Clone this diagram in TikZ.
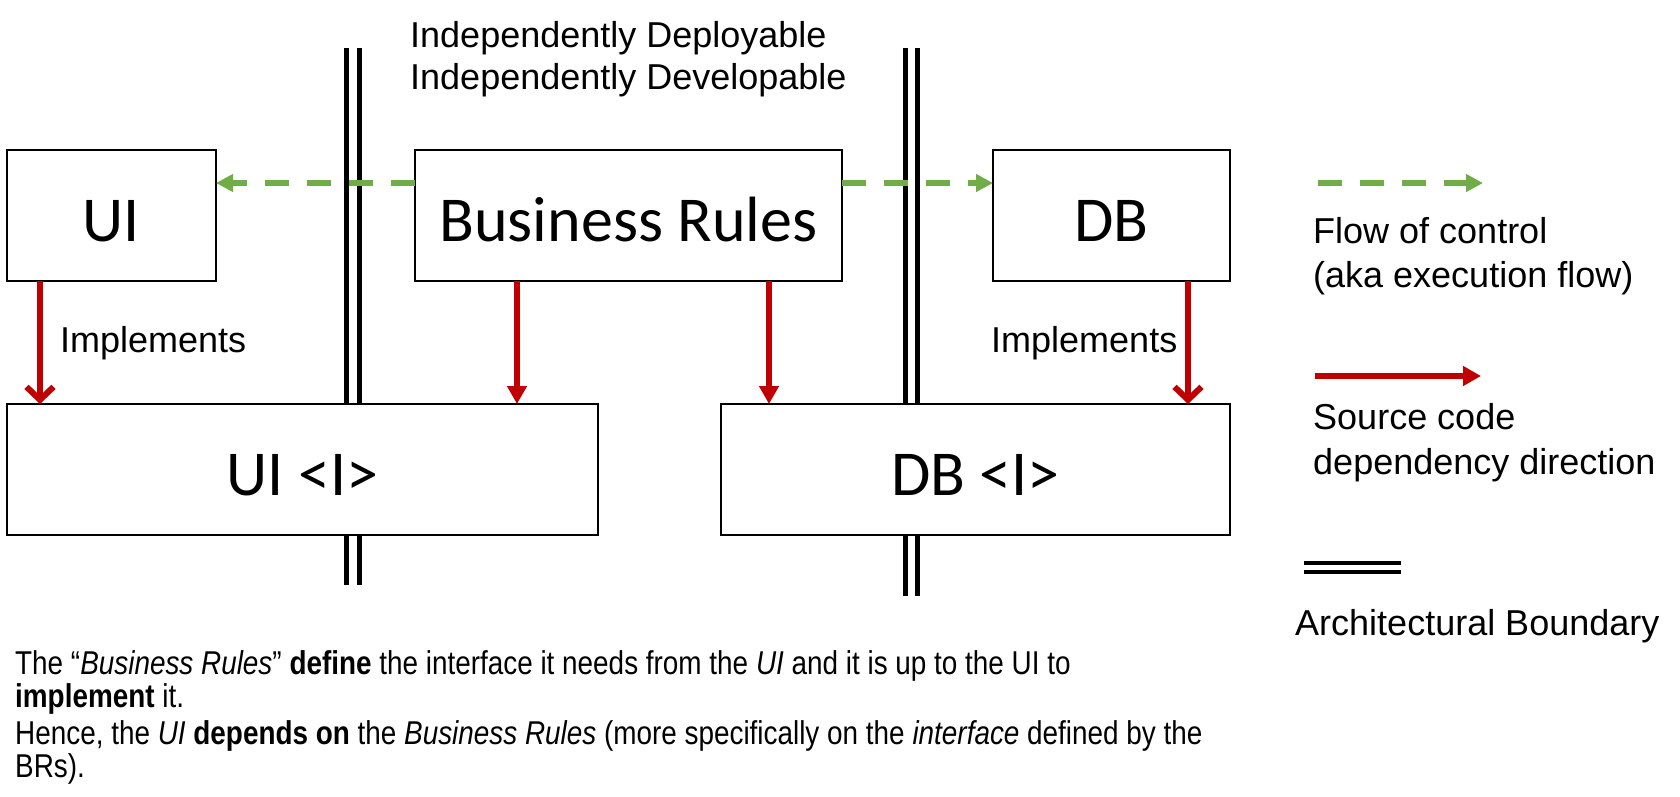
\documentclass[tikz,border=0pt]{standalone}
\usepackage{fontspec}
\setmainfont{Liberation Sans}
\newfontfamily\boxfont{Carlito}
\newfontfamily\narrowfont[FakeStretch=0.845]{Liberation Sans}
\usetikzlibrary{arrows.meta}

\definecolor{flowgreen}{HTML}{70AD47}
\definecolor{depred}{HTML}{C00000}

\begin{document}
\begin{tikzpicture}[x=1pt,y=-1pt]
 \tikzstyle{box} = [draw=black,line width=2pt,fill=white,inner sep=0pt,outer sep=0pt,minimum height=131pt,text height=52pt,text depth=0pt,font=\boxfont\fontsize{64}{77}\selectfont];
 \tikzstyle{flow} = [flowgreen,line width=5.5pt,dash pattern=on 24pt off 18pt,-{Triangle[length=17pt,width=17pt]}];
 \tikzstyle{dep} = [depred,line width=6pt,-{Triangle[length=18pt,width=19pt]}];
 \tikzstyle{impl} = [depred,line width=6pt,-{Straight Barb[length=13pt,width=27pt]}];
 \tikzstyle{boundary} = [black,line width=5pt];
 \tikzstyle{label} = [inner sep=0pt,anchor=base west,font=\fontsize{36}{44}\selectfont];

 \useasboundingbox (0,0) rectangle (1680,796);

 % architectural boundaries (behind the boxes)
 \coordinate (lbtop) at (353,48);
 \coordinate (lbbot) at (353,585);
 \coordinate (rbtop) at (911.5,48);
 \coordinate (rbbot) at (911.5,596);
 \draw[boundary] ([xshift=-6.5pt]lbtop) -- ([xshift=-6.5pt]lbbot);
 \draw[boundary] ([xshift=6.5pt]lbtop) -- ([xshift=6.5pt]lbbot);
 \draw[boundary] ([xshift=-6pt]rbtop) -- ([xshift=-6pt]rbbot);
 \draw[boundary] ([xshift=6pt]rbtop) -- ([xshift=6pt]rbbot);

 \node[label] (deploy) at (410,47) {Independently Deployable};
 \node[label] (develop) at (410,89) {Independently Developable};

 % components
 \node[box,minimum width=209pt] (ui) at (111.5,215.5) {UI};
 \node[box,minimum width=427pt] (br) at (628.5,215.5) {Business Rules};
 \node[box,minimum width=237pt] (db) at (1111.5,215.5) {DB};
 \node[box,minimum width=591pt] (uii) at (302.5,469.5) {UI <I>};
 \node[box,minimum width=509pt] (dbi) at (975.5,469.5) {DB <I>};

 % flow of control
 \coordinate (fl) at (0,183);
 \draw[flow] (br.west |- fl) -- (ui.east |- fl);
 \draw[flow] (br.east |- fl) -- (db.west |- fl);

 % source code dependencies
 \draw[impl] ([xshift=33pt]ui.south west) -- ([xshift=33pt]uii.north west);
 \draw[dep] ([xshift=102pt]br.south west) -- ([xshift=102pt]br.south west |- uii.north);
 \draw[dep] ([xshift=354pt]br.south west) -- ([xshift=354pt]br.south west |- dbi.north);
 \draw[impl] ([xshift=195pt]db.south west) -- ([xshift=195pt]db.south west |- dbi.north);

 \node[label] (implui) at (60,352) {Implements};
 \node[label] (impldb) at (991,352) {Implements};

 % legend
 \coordinate (lgflowa) at (1318,183);
 \coordinate (lgflowb) at (1483,183);
 \coordinate (lgdepa) at (1315,376);
 \coordinate (lgdepb) at (1481,376);
 \coordinate (lgbnda) at (1304,563);
 \coordinate (lgbndb) at (1401,563);
 \draw[flow] (lgflowa) -- (lgflowb);
 \draw[dep] (lgdepa) -- (lgdepb);
 \draw[black,line width=3.5pt] (lgbnda) -- (lgbndb);
 \draw[black,line width=3.5pt] ([yshift=-9pt]lgbnda) -- ([yshift=-9pt]lgbndb);

 \node[label] (flowa) at (1313,243) {Flow of control};
 \node[label] (flowb) at (1313,287) {(aka execution flow)};
 \node[label] (depa) at (1313,429) {Source code};
 \node[label] (depb) at (1313,474) {dependency direction};
 \node[label] (bnd) at (1295,635) {Architectural Boundary};

 % explanation
 \node[inner sep=0pt,anchor=base west,align=left,font=\narrowfont\fontsize{33}{33}\selectfont] (note) at (15,777)
   {The \textquotedblleft\textit{Business Rules}\textquotedblright{} \textbf{define} the interface it needs from the \textit{UI} and it is up to the UI to\\
    \textbf{implement} it.\\[4pt]
    Hence, the \textit{UI} \textbf{depends on} the \textit{Business Rules} (more specifically on the \textit{interface} defined by the\\
    BRs).};
\end{tikzpicture}
\end{document}
